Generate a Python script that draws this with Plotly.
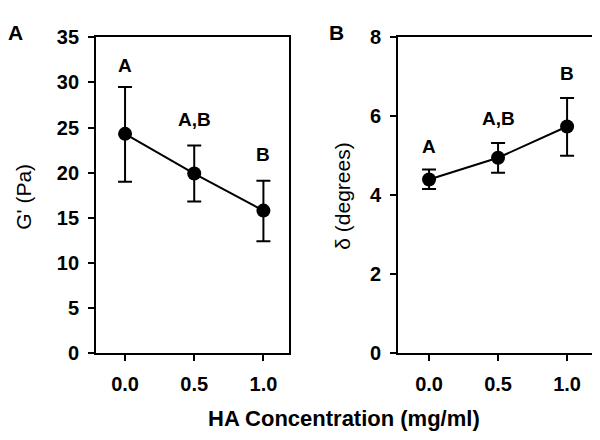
import plotly.graph_objects as go

conc = [0.0, 0.5, 1.0]
tick_labels = ["0.0", "0.5", "1.0"]

g_mean = [24.3, 19.9, 15.8]
g_err_plus = [5.2, 3.1, 3.3]
g_err_minus = [5.3, 3.1, 3.4]
g_letters = ["A", "A,B", "B"]
g_letter_y = [31.9, 25.9, 22.0]

d_mean = [4.40, 4.95, 5.74]
d_err_plus = [0.25, 0.37, 0.72]
d_err_minus = [0.24, 0.38, 0.74]
d_letters = ["A", "A,B", "B"]
d_letter_y = [5.24, 5.95, 7.09]

FONT = "Arial, Liberation Sans, sans-serif"

W, H = 600, 440


def px_x(x):
    return (x - 7) / W


def px_y(y):
    return 1 - ((y - 17.7) / 0.953) / H


fig = go.Figure()

fig.add_trace(go.Scatter(
    x=conc, y=g_mean, mode="lines+markers",
    line=dict(color="black", width=2),
    marker=dict(color="black", size=14),
    error_y=dict(type="data", array=g_err_plus, arrayminus=g_err_minus,
                 color="black", thickness=2, width=7),
    xaxis="x", yaxis="y", showlegend=False,
))
fig.add_trace(go.Scatter(
    x=conc, y=d_mean, mode="lines+markers",
    line=dict(color="black", width=2),
    marker=dict(color="black", size=14),
    error_y=dict(type="data", array=d_err_plus, arrayminus=d_err_minus,
                 color="black", thickness=2, width=7),
    xaxis="x2", yaxis="y2", showlegend=False,
))

ydom = [px_y(353), px_y(36)]
tickfont = dict(family=FONT, size=20, color="black", weight="bold")
common_axis = dict(showline=True, mirror=True, linecolor="black", linewidth=1.8,
                   ticks="outside", ticklen=6, tickwidth=1.8, tickcolor="black",
                   showgrid=False, zeroline=False, tickfont=tickfont)

fig.update_layout(
    width=W, height=H,
    margin=dict(l=0, r=0, t=0, b=0),
    paper_bgcolor="white", plot_bgcolor="white",
    xaxis=dict(domain=[px_x(95), px_x(288)], range=[-0.21, 1.185],
               tickvals=conc, ticktext=tick_labels, anchor="y",
               ticklabelstandoff=6, **common_axis),
    yaxis=dict(domain=ydom, range=[0, 35], tickvals=[0, 5, 10, 15, 20, 25, 30, 35],
               anchor="x", ticklabelstandoff=5, **common_axis),
    xaxis2=dict(domain=[px_x(397), px_x(593)], range=[-0.225, 1.195],
                tickvals=conc, ticktext=tick_labels, anchor="y2",
                ticklabelstandoff=6, **common_axis),
    yaxis2=dict(domain=ydom, range=[0, 8], tickvals=[0, 2, 4, 6, 8],
                anchor="x2", ticklabelstandoff=5, **common_axis),
)

letter_font = dict(family=FONT, size=19, color="black", weight="bold")
annotations = []
for x, y, t in zip(conc, g_letter_y, g_letters):
    annotations.append(dict(x=x, y=y, xref="x", yref="y", text=t, showarrow=False,
                            xanchor="center", yanchor="middle", font=letter_font))
for x, y, t in zip(conc, d_letter_y, d_letters):
    annotations.append(dict(x=x, y=y, xref="x2", yref="y2", text=t, showarrow=False,
                            xanchor="center", yanchor="middle", font=letter_font))


def paper_text(px, py, text, font, angle=0, yanchor="middle"):
    return dict(x=px_x(px), y=min(px_y(py), 1.0), xref="paper", yref="paper", text=text,
                showarrow=False, xanchor="center", yanchor=yanchor,
                textangle=angle, font=font)


annotations += [
    paper_text(14, 17, "A", dict(family=FONT, size=21, color="black", weight="bold"),
               yanchor="top"),
    paper_text(335, 17, "B", dict(family=FONT, size=21, color="black", weight="bold"),
               yanchor="top"),
    paper_text(23, 196, "G' (Pa)", dict(family=FONT, size=21, color="black"), -90),
    paper_text(342, 196, "δ (degrees)", dict(family=FONT, size=21, color="black"), -90),
    paper_text(343, 418, "HA Concentration (mg/ml)",
               dict(family=FONT, size=22, color="black", weight="bold")),
]
fig.update_layout(annotations=annotations)

fig.write_html("out.html")
